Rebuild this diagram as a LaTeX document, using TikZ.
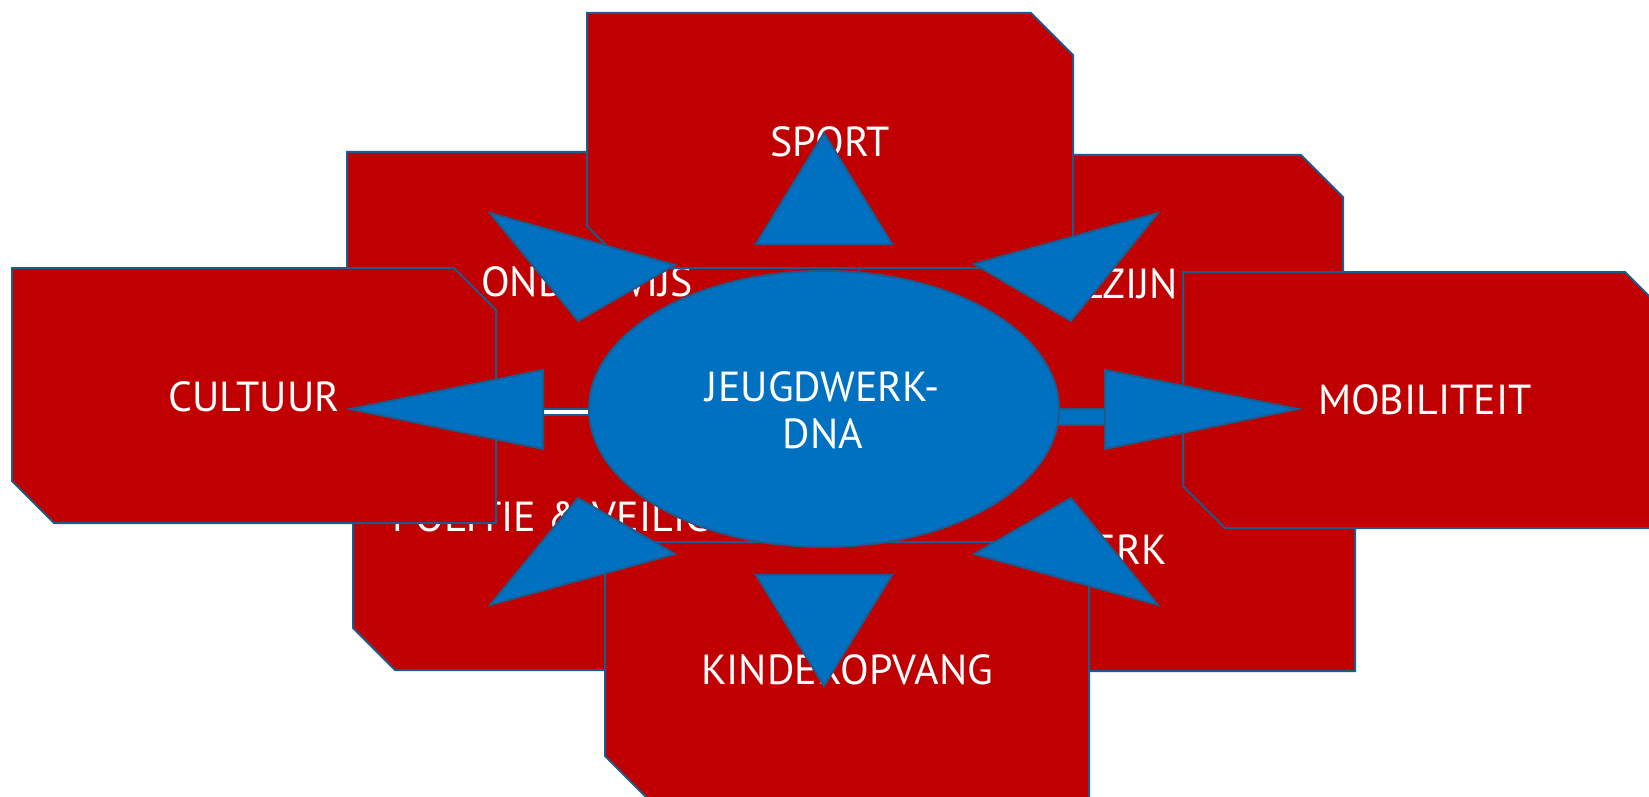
\documentclass[tikz,border=0pt]{standalone}
\usepackage{fontspec}
\setmainfont{PT Sans}
\definecolor{boxred}{RGB}{192, 0, 0}
\definecolor{dnablue}{RGB}{0, 112, 192}
\definecolor{edgeblue}{RGB}{31, 90, 140}
\usepackage{tikz}
\usetikzlibrary{positioning}

% snipped box: left, top, right, bottom (corners cut top-right and bottom-left)
\newcommand{\snipbox}[4]{%
  \filldraw[sector] (#1,#2) -- ({#3-42},#2) -- (#3,{#2+42}) -- (#3,#4)
    -- ({#1+42},#4) -- (#1,{#4-42}) -- cycle;}

\tikzset{
  sector/.style={fill=boxred, draw=edgeblue, line width=1pt, line join=miter},
  pointer/.style={fill=dnablue, draw=edgeblue, line width=1pt, line join=miter},
  sectorlabel/.style={text=white, inner sep=0pt, font=\fontsize{21}{25}\selectfont},
}

\begin{document}
\begin{tikzpicture}[x=0.5pt, y=-0.5pt]
    \clip (0,0) rectangle (1649,797);
    \fill[white] (0,0) rectangle (1649,797);

    % === diagonal boxes (back) ===
    \snipbox{347}{152}{866}{410}
    \node[sectorlabel] (onderwijs) at (587,282) {ONDERWIJS};
    \snipbox{859}{155}{1343}{412}
    \node[sectorlabel] (welzijn) at (1101,284) {WELZIJN};
    \snipbox{353}{413}{837}{670}
    \node[sectorlabel] (politie) at (597,517) {POLITIE \& VEILIGHEID};
    \snipbox{871}{416}{1355}{671}
    \node[sectorlabel] (werk) at (1113,550) {WERK};

    % === straight boxes (front) ===
    \snipbox{587}{13}{1073}{268}
    \node[sectorlabel] (sport) at (830,142) {SPORT};
    \snipbox{605}{542}{1089}{798}
    \node[sectorlabel] (kinderopvang) at (847,670) {KINDEROPVANG};
    \snipbox{12}{268}{496}{523}
    \node[sectorlabel] (cultuur) at (254,397) {CULTUUR};
    \snipbox{1183}{272}{1667}{528}
    \node[sectorlabel] (mobiliteit) at (1425,400) {MOBILITEIT};

    % === shafts of the side arrow ===
    \filldraw[fill=white, draw=edgeblue, line width=1pt] (543,408.5) rectangle (600,415);
    \filldraw[pointer] (1045,409) rectangle (1105,425);

    % === centre ===
    \filldraw[pointer] (824,409) ellipse [x radius=235, y radius=138];
    \node[text=white, align=center, inner sep=0pt,
          font=\fontsize{21}{23.5}\selectfont] (dna) at (823,410.5) {JEUGDWERK-\\DNA};

    % === arrow heads ===
    \filldraw[pointer] (824,133) -- (756,244) -- (892,244) -- cycle;
    \filldraw[pointer] (824,686) -- (756,575) -- (892,575) -- cycle;
    \filldraw[pointer] (490,213) -- (675,265) -- (578,321) -- cycle;
    \filldraw[pointer] (1158,213) -- (974,264) -- (1071,321) -- cycle;
    \filldraw[pointer] (490,605) -- (675,554) -- (578,498) -- cycle;
    \filldraw[pointer] (1158,605) -- (974,554) -- (1071,498) -- cycle;
    \filldraw[pointer] (350,409) -- (543,370) -- (543,449) -- cycle;
    \filldraw[pointer] (1298,409) -- (1105,370) -- (1105,449) -- cycle;
\end{tikzpicture}
\end{document}
